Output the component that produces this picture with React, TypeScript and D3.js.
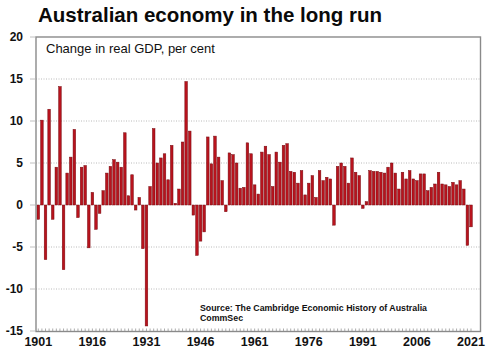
import React, { useEffect } from 'react';
import * as d3 from 'd3';

// Annual change in real GDP, per cent, 1901 to 2021
const firstYear = 1901;
const gdpGrowth = [
  -1.7, 10.1, -6.5, 11.4, -1.7, 4.5, 14.1, -7.7, 3.8, 5.7,
  9.0, -1.5, 4.5, 4.7, -5.1, 1.5, -2.9, -1.0, 1.7, 3.8,
  4.6, 5.4, 5.1, 4.5, 8.6, 1.1, 3.6, -0.6, 0.9, -5.2,
  -14.4, 2.2, 9.1, 5.0, 5.6, 6.1, 3.0, 7.1, 0.2, 1.9,
  7.5, 14.7, 8.8, -1.2, -6.0, -4.3, -3.2, 8.1, 4.9, 8.2,
  5.7, 2.9, -0.8, 6.2, 6.0, 5.0, 2.0, 2.1, 7.4, 6.1,
  2.4, 1.3, 6.3, 7.0, 6.0, 2.2, 6.3, 5.1, 7.1, 7.3,
  4.0, 3.9, 2.6, 4.1, 1.2, 2.6, 3.5, 0.9, 4.1, 2.9,
  3.3, 3.1, -2.4, 4.6, 5.0, 4.6, 2.6, 5.6, 3.9, 3.5,
  -0.4, 0.4, 4.1, 4.0, 4.0, 3.9, 3.8, 4.5, 5.0, 3.8,
  1.9, 3.9, 3.1, 4.1, 3.1, 2.9, 3.7, 3.7, 1.7, 2.1,
  2.5, 3.9, 2.5, 2.4, 2.2, 2.7, 2.4, 2.9, 1.9, -4.8,
  -2.6,
];
const years = gdpGrowth.map((_, i) => firstYear + i);

const xTickYears = [1901, 1916, 1931, 1946, 1961, 1976, 1991, 2006, 2021];
const yTicks = [20, 15, 10, 5, 0, -5, -10, -15];
const gridValues = [15, 10, 5, -5, -10];

const titleText = 'Australian economy in the long run';
const subtitleText = 'Change in real GDP, per cent';
const sourceLines = ['Source: The Cambridge Economic History of Australia', 'CommSec'];

const font = '"Liberation Sans", Arial, Helvetica, sans-serif';

export default function App() {
  useEffect(() => {
    document.body.style.margin = '0';
  }, []);

  const width = 500;
  const height = 350;
  const frame = { left: 36, right: 480.5, top: 37, bottom: 331.5 };

  const y = d3.scaleLinear().domain([-15, 20]).range([331, 37]);
  const x = d3
    .scaleLinear()
    .domain([firstYear, years[years.length - 1]])
    .range([38.3, 471]);
  const barW = 2.6;

  return (
    <svg width={width} height={height} style={{ display: 'block', background: '#fff' }} fontFamily={font}>
      <text x={38} y={22} fontSize={20.5} fontWeight="bold" fill="#0a0a0a">
        {titleText}
      </text>

      {/* dotted grid */}
      {gridValues.map(v => (
        <line
          key={v}
          x1={frame.left}
          x2={frame.right}
          y1={y(v)}
          y2={y(v)}
          stroke="#a8a8a8"
          strokeWidth={0.8}
          strokeDasharray="1,1.5"
        />
      ))}

      {/* bars */}
      {gdpGrowth.map((v, i) => (
        <rect
          key={years[i]}
          x={x(years[i]) - barW / 2}
          y={Math.min(y(v), y(0))}
          width={barW}
          height={Math.max(Math.abs(y(v) - y(0)), 0.8)}
          fill="#b8131d"
          stroke="#760b11"
          strokeWidth={0.5}
        />
      ))}

      {/* year minor ticks */}
      {years.map(yr => (
        <line key={yr} x1={x(yr)} x2={x(yr)} y1={frame.bottom} y2={frame.bottom - 3} stroke="#8a8a8a" strokeWidth={0.7} />
      ))}

      {/* frame */}
      <rect
        x={frame.left}
        y={frame.top}
        width={frame.right - frame.left}
        height={frame.bottom - frame.top}
        fill="none"
        stroke="#8a8a8a"
        strokeWidth={1.4}
      />

      {/* y axis */}
      {yTicks.map(v => (
        <g key={v}>
          <line x1={30} x2={frame.left} y1={y(v)} y2={y(v)} stroke="#b0b0b0" strokeWidth={0.8} />
          <text x={23} y={y(v)} dy="0.35em" textAnchor="end" fontSize={12} fontWeight="bold" fill="#111">
            {v}
          </text>
        </g>
      ))}

      {/* x axis labels */}
      {xTickYears.map(yr => (
        <text key={yr} x={x(yr)} y={346} textAnchor="middle" fontSize={12.5} fontWeight="bold" fill="#111">
          {yr}
        </text>
      ))}

      <text x={46} y={53} fontSize={13} fill="#111">
        {subtitleText}
      </text>

      {sourceLines.map((s, i) => (
        <text key={s} x={200} y={311 + i * 10} fontSize={8.8} fontWeight="bold" fill="#111">
          {s}
        </text>
      ))}
    </svg>
  );
}
